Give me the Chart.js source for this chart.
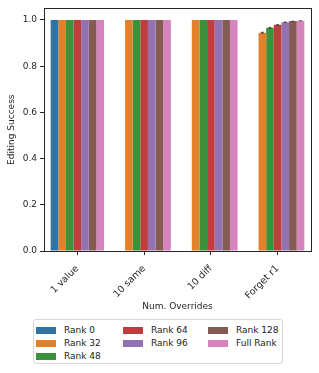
<!DOCTYPE html>
<html>
<head>
<meta charset="utf-8">
<script src="https://cdn.jsdelivr.net/npm/chart.js@4/dist/chart.umd.min.js"></script>
<style>
  html,body{margin:0;padding:0;background:#fff;}
  #wrap{position:relative;width:319px;height:373px;font-family:"DejaVu Sans",sans-serif;}
  #legend{position:absolute;left:33px;top:319px;width:250px;height:45px;border:1px solid #d6d6d6;border-radius:3px;box-sizing:border-box;background:#fff;}
  .item{position:absolute;display:flex;align-items:center;font-size:9px;color:#222;white-space:nowrap;}
  .sw{width:20px;height:7px;margin-right:8px;}
</style>
</head>
<body>
<div id="wrap">
  <canvas id="c" width="319" height="373"></canvas>
  <div id="legend"></div>
</div>
<script>
// --- Data ---
const categories = ['1 value', '10 same', '10 diff', 'Forget r1'];
const seriesNames = ['Rank 0', 'Rank 32', 'Rank 48', 'Rank 64', 'Rank 96', 'Rank 128', 'Full Rank'];
const rank0   = [1.0, null, null, null];
const rank32  = [1.0, 1.0, 1.0, 0.945];
const rank48  = [1.0, 1.0, 1.0, 0.966];
const rank64  = [1.0, 1.0, 1.0, 0.979];
const rank96  = [1.0, 1.0, 1.0, 0.990];
const rank128 = [1.0, 1.0, 1.0, 0.995];
const fullRank= [1.0, 1.0, 1.0, 0.997];
// error half-widths (only Forget r1 has visible spread)
const errors = [
  [0,0,0,0],
  [0,0,0,0.004],
  [0,0,0,0.004],
  [0,0,0,0.003],
  [0,0,0,0.003],
  [0,0,0,0.002],
  [0,0,0,0.002]
];
const yTicks = [0, 0.2, 0.4, 0.6, 0.8, 1.0];

// --- Style ---
const colors = ['#3274a1','#e1812c','#3a923a','#c03d3e','#9372b2','#845b53','#d684bd'];
const AX = '#262626';
const FONT = {family:'"DejaVu Sans", sans-serif', size:9};
Chart.defaults.font = FONT;
Chart.defaults.color = AX;

const values = [rank0, rank32, rank48, rank64, rank96, rank128, fullRank];
const datasets = values.map((v,i)=>({
  label: seriesNames[i], data: v, backgroundColor: colors[i],
  borderWidth: 0, categoryPercentage: 0.8, barPercentage: 1.0
}));

// box frame + error bars
const extras = {
  id:'extras',
  afterDatasetsDraw(chart){
    const ctx = chart.ctx, ys = chart.scales.y;
    ctx.save();
    ctx.strokeStyle = '#424242';
    ctx.lineWidth = 2.5;
    values.forEach((v,i)=>{
      const meta = chart.getDatasetMeta(i);
      meta.data.forEach((bar,j)=>{
        const e = errors[i][j];
        if(v[j]==null || !e) return;
        const x = bar.x;
        ctx.beginPath();
        ctx.moveTo(x, ys.getPixelForValue(v[j]-e));
        ctx.lineTo(x, ys.getPixelForValue(v[j]+e));
        ctx.stroke();
      });
    });
    const a = chart.chartArea;
    ctx.strokeStyle = AX; ctx.lineWidth = 1;
    ctx.strokeRect(Math.round(a.left)+0.5, Math.round(a.top)+0.5, Math.round(a.right-a.left), Math.round(a.bottom-a.top));
    ctx.restore();
  }
};

new Chart(document.getElementById('c'), {
  type:'bar',
  data:{ labels: categories, datasets },
  options:{
    responsive:false, animation:false,
    layout:{ padding:{ left:2, right:8, top:8, bottom:57 } },
    plugins:{ legend:{display:false}, tooltip:{enabled:false} },
    scales:{
      x:{
        grid:{ drawOnChartArea:false, offset:false, tickLength:4, tickColor:AX },
        border:{ color:AX },
        ticks:{ minRotation:45, maxRotation:45, padding:8, color:AX, font:{size:9.5} },
        title:{ display:true, text:'Num. Overrides', color:AX },
        afterFit(s){ s.height = 65; }
      },
      y:{
        min:0, max:1.05,
        afterBuildTicks(s){ s.ticks = yTicks.map(v=>({value:v})); },
        grid:{ drawOnChartArea:false, tickLength:4, tickColor:AX },
        border:{ color:AX },
        ticks:{ padding:3, color:AX, callback:v=>Number(v).toFixed(1) },
        title:{ display:true, text:'Editing Success', color:AX },
        afterFit(s){ s.width = 42; }
      }
    }
  },
  plugins:[extras]
});

// --- Legend (column-major, 3 columns like matplotlib ncol=3) ---
const legend = document.getElementById('legend');
const colX = [2, 89, 174];
const rowY = [10, 23, 36];
const perCol = [3, 2, 2];
let k = 0;
perCol.forEach((n,c)=>{
  for(let r=0;r<n;r++,k++){
    const d = document.createElement('div');
    d.className = 'item';
    d.style.left = colX[c] + 'px';
    d.style.top = (rowY[r] - 6) + 'px';
    d.style.height = '12px';
    d.innerHTML = `<span class="sw" style="background:${colors[k]}"></span><span>${seriesNames[k]}</span>`;
    legend.appendChild(d);
  }
});
</script>
</body>
</html>
